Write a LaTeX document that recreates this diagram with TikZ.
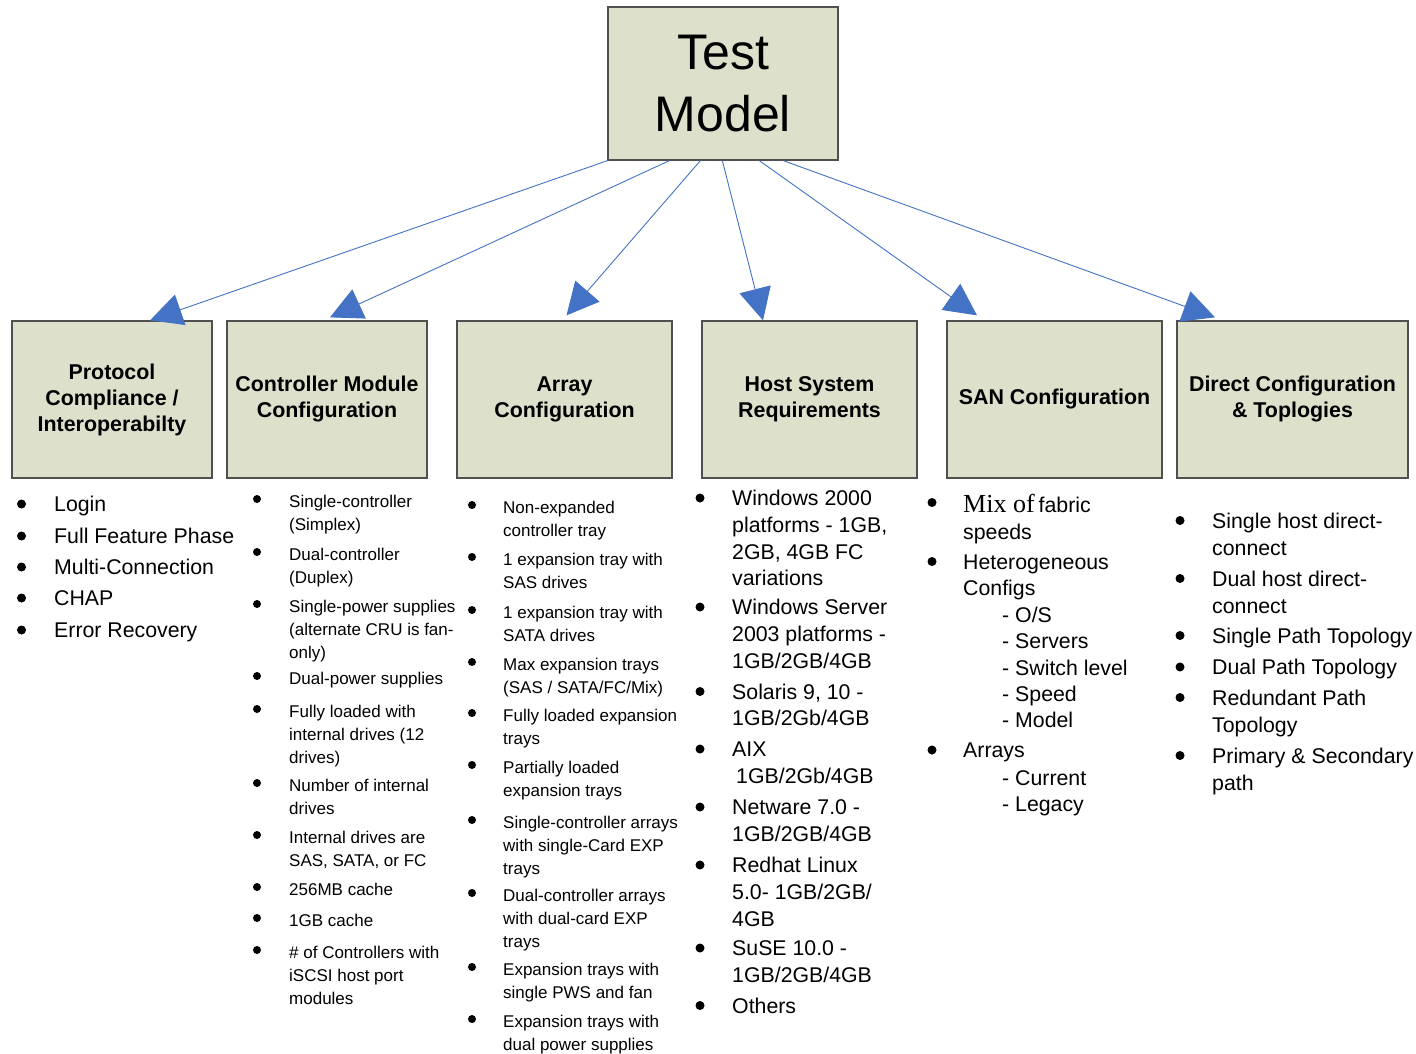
\documentclass[tikz,border=0pt]{standalone}
\usepackage{fontspec}
\setmainfont{Liberation Sans}
\newfontfamily\timesfont{Liberation Serif}
\usetikzlibrary{arrows.meta,calc}

\definecolor{boxfill}{RGB}{221,224,203}
\definecolor{boxline}{RGB}{80,80,80}
\definecolor{linkblue}{RGB}{68,114,196}

% fixed height for the first line of every list entry
\newcommand\itemtop{\rule{0pt}{16pt}}
% list entry: name, text x, first baseline, bullet x, text
\newcommand\bigentry[5]{%
  \fill (#4,#3-7.5) circle (4.5pt);
  \node[bigtext] (#1) at (#2,#3-16) {\itemtop #5};}
\newcommand\smallentry[5]{%
  \fill (#4,#3-8) circle (4pt);
  \node[smalltext] (#1) at (#2,#3-16) {\itemtop #5};}

\tikzset{
  box/.style={draw=boxline, line width=1.3pt, fill=boxfill, align=center, inner sep=0pt},
  head/.style={box, minimum height=157pt, font=\fontsize{21.4}{26}\selectfont\bfseries},
  link/.style={draw=linkblue, line width=0.9pt, -{Triangle[length=32pt,width=32pt]}},
  bigtext/.style={anchor=north west, inner sep=0pt, align=left, font=\fontsize{21.3}{26.7}\selectfont},
  smalltext/.style={anchor=north west, inner sep=0pt, align=left, font=\fontsize{17}{23.3}\selectfont},
}

\begin{document}
\begin{tikzpicture}[x=1pt,y=-1pt]
\useasboundingbox (0,0) rectangle (1416,1053);
\fill[white] (0,0) rectangle (1416,1053);

% root
\node[box, minimum width=230pt, minimum height=153pt,
      font=\fontsize{50}{62}\selectfont] (top) at (723,83.5) {Test\\Model};

% second level
\node[head, minimum width=200pt] (b1) at (112,399.5) {Protocol\\Compliance /\\Interoperabilty};
\node[head, minimum width=200pt] (b2) at (327,399.5) {Controller Module\\Configuration};
\node[head, minimum width=215pt] (b3) at (564.5,399.5) {Array\\Configuration};
\node[head, minimum width=215pt] (b4) at (809.5,399.5) {Host System\\Requirements};
\node[head, minimum width=215pt] (b5) at (1054.5,399.5) {SAN Configuration};
\node[head, minimum width=231pt] (b6) at (1292.5,399.5) {Direct Configuration\\\& Toplogies};

% connectors
\draw[link] (top.south west) -- ($(b1.north)+(38,0)$);
\draw[link] ($(top.south west)+(62,0)$) -- ($(b2.north)+(3,-3)$);
\draw[link] ($(top.south west)+(93,0)$) -- ($(b3.north)+(2,-5)$);
\draw[link] ($(top.south west)+(115,0)$) -- ($(b4.north)+(-46.5,0)$);
\draw[link] ($(top.south west)+(152,0)$) -- ($(b5.north)+(-77.5,-5)$);
\draw[link] ($(top.south west)+(176,0)$) -- ($(b6.north)+(-77.5,-3)$);

% protocol compliance
\bigentry{p1}{54}{511.5}{21.5}{Login}
\bigentry{p2}{54}{543.5}{21.5}{Full Feature Phase}
\bigentry{p3}{54}{574.5}{21.5}{Multi-Connection}
\bigentry{p4}{54}{605.5}{21.5}{CHAP}
\bigentry{p5}{54}{637.5}{21.5}{Error Recovery}

% controller module
\smallentry{c1}{289}{507}{257}{Single-controller\\(Simplex)}
\smallentry{c2}{289}{560}{257}{Dual-controller\\(Duplex)}
\smallentry{c3}{289}{612}{257}{Single-power supplies\\(alternate CRU is fan-\\only)}
\smallentry{c4}{289}{684}{257}{Dual-power supplies}
\smallentry{c5}{289}{717}{257}{Fully loaded with\\internal drives (12\\drives)}
\smallentry{c6}{289}{791}{257}{Number of internal\\drives}
\smallentry{c7}{289}{843}{257}{Internal drives are\\SAS, SATA, or FC}
\smallentry{c8}{289}{895}{257}{256MB cache}
\smallentry{c9}{289}{926}{257}{1GB cache}
\smallentry{c10}{289}{958}{257}{\# of Controllers with\\iSCSI host port\\modules}

% array configuration
\smallentry{a1}{503}{513}{472}{Non-expanded\\controller tray}
\smallentry{a2}{503}{565}{472}{1 expansion tray with\\SAS drives}
\smallentry{a3}{503}{618}{472}{1 expansion tray with\\SATA drives}
\smallentry{a4}{503}{670}{472}{Max expansion trays\\(SAS / SATA/FC/Mix)}
\smallentry{a5}{503}{721}{472}{Fully loaded expansion\\trays}
\smallentry{a6}{503}{773}{472}{Partially loaded\\expansion trays}
\smallentry{a7}{503}{828}{472}{Single-controller arrays\\with single-Card EXP\\trays}
\smallentry{a8}{503}{901}{472}{Dual-controller arrays\\with dual-card EXP\\trays}
\smallentry{a9}{503}{975}{472}{Expansion trays with\\single PWS and fan}
\smallentry{a10}{503}{1027}{472}{Expansion trays with\\dual power supplies}

% host system
\bigentry{h1}{732}{505.5}{700}{Windows 2000\\platforms - 1GB,\\2GB, 4GB FC\\variations}
\bigentry{h2}{732}{614.5}{700}{Windows Server\\2003 platforms -\\1GB/2GB/4GB}
\bigentry{h3}{732}{699}{700}{Solaris 9, 10 -\\1GB/2Gb/4GB}
\bigentry{h4}{732}{756.5}{700}{AIX\\\hspace{4pt}1GB/2Gb/4GB}
\bigentry{h5}{732}{814.5}{700}{Netware 7.0 -\\1GB/2GB/4GB}
\bigentry{h6}{732}{872.5}{700}{Redhat Linux\\5.0- 1GB/2GB/\\4GB}
\bigentry{h7}{732}{955.5}{700}{SuSE 10.0 -\\1GB/2GB/4GB}
\bigentry{h8}{732}{1013}{700}{Others}

% SAN configuration
\bigentry{s1}{963}{510}{932}{{\timesfont\fontsize{26}{28}\selectfont Mix of}\hspace{4pt}fabric\\speeds}
\bigentry{s2}{963}{569}{932}{Heterogeneous\\Configs}
\node[bigtext, font=\fontsize{21.3}{26.2}\selectfont] (s2sub) at (1002,622.5-16)
  {\itemtop - O/S\\- Servers\\- Switch level\\- Speed\\- Model};
\bigentry{s3}{963}{757.5}{932}{Arrays}
\node[bigtext, font=\fontsize{21.3}{26}\selectfont] (s3sub) at (1002,785-16)
  {\itemtop - Current\\- Legacy};

% direct configuration
\tikzset{bigtext/.append style={font=\fontsize{21.3}{27}\selectfont}}
\bigentry{d1}{1212}{528}{1180}{Single host direct-\\connect}
\bigentry{d2}{1212}{586}{1180}{Dual host direct-\\connect}
\bigentry{d3}{1212}{643}{1180}{Single Path Topology}
\bigentry{d4}{1212}{674.5}{1180}{Dual Path Topology}
\bigentry{d5}{1212}{705}{1180}{Redundant Path\\Topology}
\bigentry{d6}{1212}{763}{1180}{Primary \& Secondary\\path}
\end{tikzpicture}
\end{document}
